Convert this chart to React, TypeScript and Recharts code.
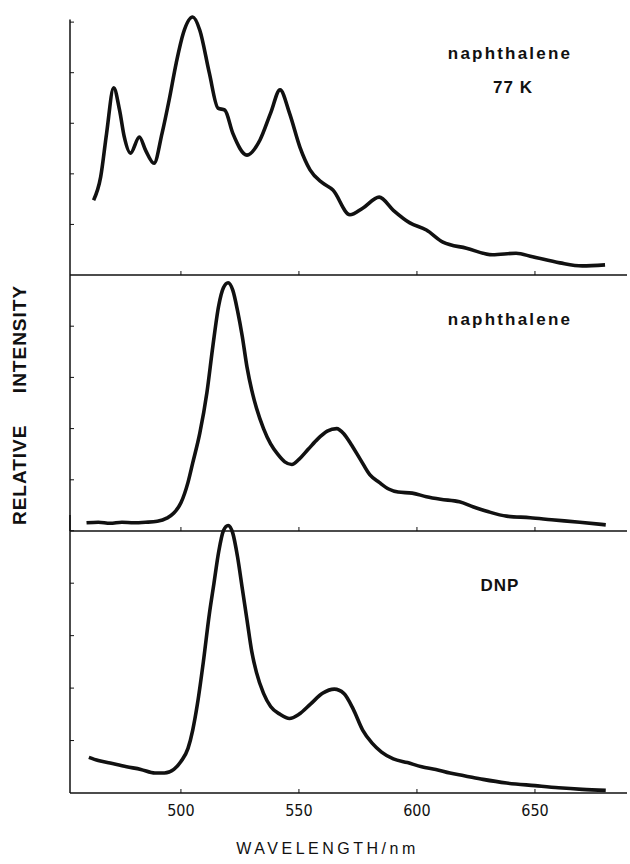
import { Line, LineChart, ReferenceLine, XAxis, YAxis } from 'recharts'

// wavelengths (nm) and relative intensity
const topWavelength = [463, 466, 468.5, 471.5, 474, 476, 478.6, 482.4, 485, 488.6, 492, 495, 498, 501, 505, 508, 512, 515.7, 518.6, 522, 528, 533.5, 538, 542, 546, 550.4, 554.7, 560, 564.4, 571.6, 577, 584, 590, 597, 604, 611, 621, 632, 642, 649, 660.6, 670, 679.7]
const topIntensity = [1.48, 1.94, 2.8, 3.7, 3.26, 2.73, 2.41, 2.73, 2.47, 2.21, 2.8, 3.46, 4.19, 4.78, 5.1, 4.84, 4.0, 3.3, 3.26, 2.8, 2.37, 2.67, 3.2, 3.66, 3.2, 2.53, 2.08, 1.82, 1.68, 1.19, 1.32, 1.54, 1.28, 1.03, 0.89, 0.65, 0.53, 0.4, 0.43, 0.36, 0.24, 0.18, 0.2]

const midWavelength = [460, 465, 470, 475, 480, 485, 490, 494, 497, 500, 503, 505, 508, 511, 513.5, 516, 518, 520, 522, 524, 526, 528, 530, 532, 535, 538, 541, 544, 547, 550, 554, 558, 562, 566, 569, 572, 576, 580, 584, 588, 592, 598, 604, 610, 618, 624, 630, 638, 648, 657, 669, 680]
const midIntensity = [0.16, 0.17, 0.15, 0.17, 0.16, 0.17, 0.19, 0.25, 0.35, 0.55, 0.95, 1.33, 1.91, 2.7, 3.6, 4.4, 4.75, 4.85, 4.7, 4.3, 3.8, 3.2, 2.75, 2.4, 2.0, 1.7, 1.5, 1.35, 1.3, 1.4, 1.6, 1.8, 1.95, 2.0, 1.9, 1.7, 1.4, 1.1, 0.95, 0.82, 0.76, 0.74, 0.67, 0.62, 0.57, 0.47, 0.38, 0.29, 0.26, 0.22, 0.17, 0.12]

const dnpWavelength = [461, 465, 470, 477, 483, 489, 493, 497, 500, 503, 505, 507, 509.5, 512, 514, 516, 518, 520, 522, 524, 526, 528, 530, 532, 535, 538, 542, 546, 550, 555, 560, 565, 569, 573, 577, 581, 585, 590, 596, 602, 608, 614, 620, 628, 638, 650, 660, 670, 680]
const dnpIntensity = [0.68, 0.62, 0.57, 0.5, 0.45, 0.38, 0.38, 0.45, 0.6, 0.85, 1.2, 1.7, 2.5, 3.4, 4.0, 4.6, 5.0, 5.1, 4.95, 4.5, 3.9, 3.3, 2.7, 2.3, 1.9, 1.65, 1.5, 1.42, 1.5, 1.7, 1.9, 1.98, 1.9, 1.6, 1.2, 0.95, 0.78, 0.65, 0.58, 0.5, 0.45, 0.38, 0.33, 0.26, 0.19, 0.14, 0.1, 0.07, 0.05]

const xTicks = [500, 550, 600, 650]
const xDomain: [number, number] = [453, 689]

const toRows = (wl: number[], val: number[]) => wl.map((w, i) => ({ wl: w, v: val[i] }))

const ink = '#111'
const titleStyle = {
  position: 'absolute' as const,
  fontFamily: '"Liberation Sans", Arial, sans-serif',
  fontWeight: 700,
  fontSize: 17,
  letterSpacing: 2.2,
  color: ink,
  whiteSpace: 'nowrap' as const,
  transform: 'translate(-50%, -50%)'
}

type PanelProps = {
  data: { wl: number; v: number }[]
  top: number
  height: number
  plotTop: number
  plotBottom: number
  yMax: number
  yTicks: number[]
  labels?: boolean
  axisTop?: number
}

function Panel({ data, top, height, plotTop, plotBottom, yMax, yTicks, labels, axisTop }: PanelProps) {
  const xHeight = labels ? 30 : 2
  return (
    <div style={{ position: 'absolute', left: 0, top, width: 630, height }}>
      <LineChart
        width={630}
        height={height}
        data={data}
        margin={{ top: plotTop, right: 3, bottom: height - plotBottom - xHeight, left: 0 }}
      >
        <XAxis
          type="number"
          dataKey="wl"
          domain={xDomain}
          ticks={xTicks}
          allowDataOverflow
          height={xHeight}
          tickSize={-4}
          tickMargin={labels ? 16 : 0}
          axisLine={{ stroke: ink, strokeWidth: 1.5 }}
          tickLine={{ stroke: ink, strokeWidth: 1 }}
          tick={{ fill: ink, fontSize: 16, fontFamily: '"Liberation Sans Narrow", "DejaVu Sans Condensed", sans-serif' }}
          tickFormatter={labels ? (t: number) => String(t) : () => ''}
          label={
            labels
              ? {
                  value: 'WAVELENGTH/nm',
                  position: 'bottom',
                  offset: 20,
                  dx: -21,
                  fill: ink,
                  fontSize: 16,
                  letterSpacing: 3.5,
                  fontFamily: '"Liberation Sans", Arial, sans-serif'
                }
              : undefined
          }
        />
        <YAxis
          type="number"
          domain={[0, yMax]}
          ticks={yTicks}
          width={70}
          tickSize={-4}
          tickFormatter={() => ''}
          axisLine={axisTop === undefined ? { stroke: ink, strokeWidth: 1.5 } : false}
          tickLine={{ stroke: ink, strokeWidth: 1 }}
        />
        {axisTop !== undefined && (
          <ReferenceLine
            segment={[{ x: xDomain[0], y: 0 }, { x: xDomain[0], y: axisTop }]}
            stroke={ink}
            strokeWidth={1.5}
          />
        )}
        <Line
          type="monotone"
          dataKey="v"
          stroke={ink}
          strokeWidth={3.6}
          dot={false}
          isAnimationActive={false}
        />
      </LineChart>
    </div>
  )
}

export default function App() {
  return (
    <div style={{ position: 'absolute', left: 0, top: 0, width: 630, height: 864, background: '#fff', overflow: 'hidden' }}>
      <Panel data={toRows(topWavelength, topIntensity)} top={0} height={290} plotTop={12} plotBottom={275} yMax={5.2} yTicks={[1, 2, 3, 4, 5]} axisTop={5.05} />
      <Panel data={toRows(midWavelength, midIntensity)} top={260} height={290} plotTop={15} plotBottom={271} yMax={5} yTicks={[1, 2, 3, 4]} />
      <Panel data={toRows(dnpWavelength, dnpIntensity)} top={500} height={364} plotTop={15} plotBottom={293} yMax={5.3} yTicks={[1, 2, 3, 4, 5]} labels />

      <div style={{ ...titleStyle, left: 510, top: 54 }}>naphthalene</div>
      <div style={{ ...titleStyle, left: 513, top: 88, letterSpacing: 1 }}>77 K</div>
      <div style={{ ...titleStyle, left: 510, top: 320 }}>naphthalene</div>
      <div style={{ ...titleStyle, left: 500, top: 586, letterSpacing: 1 }}>DNP</div>

      <div
        style={{
          position: 'absolute',
          left: 20,
          top: 405,
          transform: 'translate(-50%, -50%) rotate(-90deg)',
          fontFamily: '"Liberation Sans", Arial, sans-serif',
          fontWeight: 700,
          fontSize: 19,
          letterSpacing: 1,
          color: ink,
          whiteSpace: 'pre'
        }}
      >
        {'RELATIVE     INTENSITY'}
      </div>
    </div>
  )
}
